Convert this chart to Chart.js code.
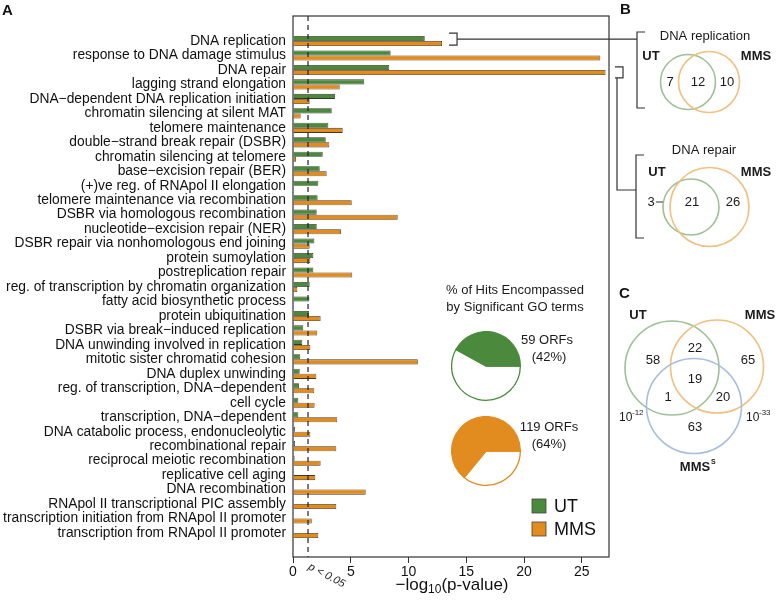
<!DOCTYPE html>
<html>
<head>
<meta charset="utf-8">
<script src="https://cdn.jsdelivr.net/npm/chart.js@4.4.0/dist/chart.umd.min.js"></script>
<style>
  body { margin: 0; background: #fff; }
  #wrap { position: relative; width: 777px; height: 605px; }
  #wrap canvas { position: absolute; }
</style>
</head>
<body>
<div id="wrap">
  <canvas id="barChart" width="777" height="605" style="left:0;top:0"></canvas>
  <canvas id="pieUT" width="70" height="70" style="left:451px;top:331px"></canvas>
  <canvas id="pieMMS" width="70" height="70" style="left:451px;top:416px"></canvas>
</div>
<script>
// GO terms, top to bottom
const categories = [
  'DNA replication',
  'response to DNA damage stimulus',
  'DNA repair',
  'lagging strand elongation',
  'DNA\u2212dependent DNA replication initiation',
  'chromatin silencing at silent MAT',
  'telomere maintenance',
  'double\u2212strand break repair (DSBR)',
  'chromatin silencing at telomere',
  'base\u2212excision repair (BER)',
  '(+)ve reg. of RNApol II elongation',
  'telomere maintenance via recombination',
  'DSBR via homologous recombination',
  'nucleotide\u2212excision repair (NER)',
  'DSBR repair via nonhomologous end joining',
  'protein sumoylation',
  'postreplication repair',
  'reg. of transcription by chromatin organization',
  'fatty acid biosynthetic process',
  'protein ubiquitination',
  'DSBR via break\u2212induced replication',
  'DNA unwinding involved in replication',
  'mitotic sister chromatid cohesion',
  'DNA duplex unwinding',
  'reg. of transcription, DNA\u2212dependent',
  'cell cycle',
  'transcription, DNA\u2212dependent',
  'DNA catabolic process, endonucleolytic',
  'recombinational repair',
  'reciprocal meiotic recombination',
  'replicative cell aging',
  'DNA recombination',
  'RNApol II transcriptional PIC assembly',
  'transcription initiation from RNApol II promoter',
  'transcription from RNApol II promoter'
];

// -log10(p-value)
const utValues = [11.4, 8.45, 8.33, 6.17, 3.63, 3.35, 3.06, 2.83, 2.57, 2.31, 2.19, 2.13, 2.05, 2.05, 1.85,
  1.76, 1.76, 1.44, 1.42, 1.38, 0.89, 0.80, 0.63, 0.58, 0.52, 0.46, 0.46, 0.17, 0.17, 0.14, 0, 0, 0, 0, 0];
const mmsValues = [12.9, 26.6, 27.05, 4.04, 1.44, 0.66, 4.3, 3.14, 0.26, 2.91, 0, 5.08, 9.06, 4.15, 1.44,
  1.5, 5.13, 0.37, 0, 2.39, 2.1, 1.5, 10.8, 2.02, 1.84, 1.87, 3.83, 1.5, 3.75, 2.39, 1.93, 6.29, 3.75, 1.62, 2.19];

const xTicks = [0, 5, 10, 15, 20, 25];
const pThreshold = 0.05;

// pies: share of hits covered by significant GO terms
const pieOrfs = [59, 119];
const piePercent = [42, 64];

// Venn counts
const vennReplication = [7, 12, 10];   // UT only, both, MMS only
const vennRepair = [3, 21, 26];
const vennC = { ut: 58, mms: 65, mmsS: 63, utMms: 22, utMmsS: 1, mmsMmsS: 20, all: 19 };

const GREEN = '#4b8a3d';
const ORANGE = '#e28b1e';
const FONT = "'Liberation Sans', Arial, Helvetica, sans-serif";

function txt(ctx, s, x, y, font, align, color) {
  ctx.font = font;
  ctx.textAlign = align || 'center';
  ctx.textBaseline = 'middle';
  ctx.fillStyle = color || '#1a1a1a';
  ctx.fillText(s, x, y);
}

function line(ctx, pts) {
  ctx.beginPath();
  ctx.moveTo(pts[0][0], pts[0][1]);
  for (let i = 1; i < pts.length; i++) ctx.lineTo(pts[i][0], pts[i][1]);
  ctx.stroke();
}

function circle(ctx, cx, cy, r, color) {
  ctx.strokeStyle = color;
  ctx.lineWidth = 1.6;
  ctx.beginPath();
  ctx.arc(cx, cy, r, 0, Math.PI * 2);
  ctx.stroke();
}

// everything drawn around the bar plot: threshold line, box, brackets, Venns, legend
const annotations = {
  id: 'annotations',
  afterDatasetsDraw(chart) {
    const { ctx, chartArea: a, scales: { x } } = chart;
    const px = x.getPixelForValue(-Math.log10(pThreshold));
    ctx.save();
    ctx.setLineDash([5, 4]);
    ctx.strokeStyle = '#222';
    ctx.lineWidth = 1.2;
    line(ctx, [[px, a.top], [px, a.bottom]]);
    ctx.setLineDash([]);
    ctx.strokeStyle = '#333';
    ctx.lineWidth = 1.2;
    ctx.strokeRect(a.left, a.top, a.right - a.left, a.bottom - a.top);

    // rotated threshold label
    ctx.save();
    ctx.translate(px + 1, a.bottom + 9);
    ctx.rotate(28 * Math.PI / 180);
    txt(ctx, 'p < 0.05', 0, 0, 'italic 11px ' + FONT, 'left', '#222');
    ctx.restore();
    ctx.restore();
  },
  afterDraw(chart) {
    const { ctx, scales: { x, y } } = chart;
    ctx.save();

    // panel letters
    txt(ctx, 'A', 2, 11, 'bold 15px ' + FONT, 'left', '#111');
    txt(ctx, 'B', 620, 10, 'bold 15px ' + FONT, 'left', '#111');
    txt(ctx, 'C', 619, 294, 'bold 15px ' + FONT, 'left', '#111');

    // x axis title with subscript
    const t1 = '\u2212log', t2 = '10', t3 = '(p-value)';
    ctx.font = '17px ' + FONT;
    const w1 = ctx.measureText(t1).width, w3 = ctx.measureText(t3).width;
    ctx.font = '12px ' + FONT;
    const w2 = ctx.measureText(t2).width;
    const sx = 452 - (w1 + w2 + w3) / 2;
    txt(ctx, t1, sx, 585, '17px ' + FONT, 'left', '#111');
    txt(ctx, t2, sx + w1, 590, '12px ' + FONT, 'left', '#111');
    txt(ctx, t3, sx + w1 + w2, 585, '17px ' + FONT, 'left', '#111');

    // pie captions
    txt(ctx, '% of Hits Encompassed', 515, 290, '13px ' + FONT);
    txt(ctx, 'by Significant GO terms', 515, 307, '13px ' + FONT);
    txt(ctx, pieOrfs[0] + ' ORFs', 547, 340, '13px ' + FONT);
    txt(ctx, '(' + piePercent[0] + '%)', 549, 357, '13px ' + FONT);
    txt(ctx, pieOrfs[1] + ' ORFs', 549, 427, '13px ' + FONT);
    txt(ctx, '(' + piePercent[1] + '%)', 549, 444, '13px ' + FONT);

    // legend
    const legend = [['UT', GREEN, 506], ['MMS', ORANGE, 529]];
    legend.forEach(([lab, col, cy]) => {
      ctx.fillStyle = col;
      ctx.fillRect(532, cy - 7, 14, 14);
      ctx.strokeStyle = '#444';
      ctx.lineWidth = 0.8;
      ctx.strokeRect(532, cy - 7, 14, 14);
      txt(ctx, lab, 554, cy + 1, '18px ' + FONT, 'left', '#111');
    });

    // brackets linking bars to Venn panels
    ctx.strokeStyle = '#333';
    ctx.lineWidth = 1.2;
    const r0 = y.getPixelForValue(0) - 2;
    const bx0 = x.getPixelForValue(mmsValues[0]) + 7;
    line(ctx, [[bx0, r0 - 6], [bx0 + 8, r0 - 6], [bx0 + 8, r0 + 6], [bx0, r0 + 6]]);
    line(ctx, [[bx0 + 8, r0], [637, r0]]);
    line(ctx, [[645, 32], [637, 32], [637, 108], [645, 108]]);

    const r2 = y.getPixelForValue(2) + 2;
    const bx2 = 615;
    line(ctx, [[bx2, r2 - 5], [bx2 + 8, r2 - 5], [bx2 + 8, r2 + 6], [bx2, r2 + 6]]);
    line(ctx, [[bx2 + 2, r2 + 6], [bx2 + 2, 190], [636, 190]]);
    line(ctx, [[644, 155], [636, 155], [636, 238], [644, 238]]);

    // Venn B1: DNA replication
    txt(ctx, 'DNA replication', 705, 36, '13px ' + FONT);
    txt(ctx, 'UT', 651, 56, 'bold 13px ' + FONT);
    txt(ctx, 'MMS', 756, 56, 'bold 13px ' + FONT);
    circle(ctx, 688, 82, 27.5, '#9fbf96');
    circle(ctx, 709, 82, 30.5, '#efc07e');
    txt(ctx, String(vennReplication[0]), 670, 82, '13px ' + FONT);
    txt(ctx, String(vennReplication[1]), 698, 82, '13px ' + FONT);
    txt(ctx, String(vennReplication[2]), 727, 82, '13px ' + FONT);

    // Venn B2: DNA repair
    txt(ctx, 'DNA repair', 704, 150, '13px ' + FONT);
    txt(ctx, 'UT', 657, 172, 'bold 13px ' + FONT);
    txt(ctx, 'MMS', 756, 172, 'bold 13px ' + FONT);
    circle(ctx, 691, 207, 28, '#9fbf96');
    circle(ctx, 709.5, 207, 39.5, '#efc07e');
    txt(ctx, String(vennRepair[0]), 651, 202, '13px ' + FONT);
    ctx.strokeStyle = '#333';
    ctx.lineWidth = 1;
    line(ctx, [[656, 202], [663, 202]]);
    txt(ctx, String(vennRepair[1]), 692, 202, '13px ' + FONT);
    txt(ctx, String(vennRepair[2]), 733, 202, '13px ' + FONT);

    // Venn C
    circle(ctx, 672, 368, 47, '#9fbf96');
    circle(ctx, 717, 366.5, 46.5, '#efc07e');
    circle(ctx, 694, 406, 47.5, '#a8bedf');
    txt(ctx, 'UT', 638, 315, 'bold 13px ' + FONT);
    txt(ctx, 'MMS', 760, 315, 'bold 13px ' + FONT);
    txt(ctx, 'MMS', 695, 467, 'bold 13px ' + FONT);
    txt(ctx, 'S', 711, 462, 'bold 7px ' + FONT, 'left');
    txt(ctx, String(vennC.ut), 653, 360, '13px ' + FONT);
    txt(ctx, String(vennC.utMms), 695, 348, '13px ' + FONT);
    txt(ctx, String(vennC.mms), 748, 360, '13px ' + FONT);
    txt(ctx, String(vennC.all), 695, 379, '13px ' + FONT);
    txt(ctx, String(vennC.utMmsS), 668, 397, '13px ' + FONT);
    txt(ctx, String(vennC.mmsMmsS), 723, 397, '13px ' + FONT);
    txt(ctx, String(vennC.mmsS), 695, 427, '13px ' + FONT);
    txt(ctx, '10', 619, 418, '12px ' + FONT, 'left');
    txt(ctx, '-12', 632, 413, '8px ' + FONT, 'left');
    txt(ctx, '10', 746, 418, '12px ' + FONT, 'left');
    txt(ctx, '-33', 759, 413, '8px ' + FONT, 'left');

    ctx.restore();
  }
};

const barData = {
  datasets: [
    {
      label: 'UT',
      data: utValues.map((v, i) => ({ x: v, y: i })),
      backgroundColor: GREEN,
      borderColor: '#2e3a28',
      borderWidth: 0.8,
      categoryPercentage: 0.7,
      barPercentage: 1
    },
    {
      label: 'MMS',
      data: mmsValues.map((v, i) => ({ x: v, y: i })),
      backgroundColor: ORANGE,
      borderColor: '#4a3518',
      borderWidth: 0.8,
      categoryPercentage: 0.7,
      barPercentage: 1
    }
  ]
};

new Chart(document.getElementById('barChart'), {
  type: 'bar',
  data: barData,
  plugins: [annotations],
  options: {
    indexAxis: 'y',
    responsive: false,
    animation: false,
    events: [],
    layout: { padding: { top: 16, right: 168, left: 0, bottom: 0 } },
    plugins: { legend: { display: false }, tooltip: { enabled: false } },
    scales: {
      x: {
        type: 'linear',
        min: 0,
        max: 27.35,
        afterBuildTicks: s => { s.ticks = xTicks.map(v => ({ value: v })); },
        afterFit: s => { s.height = 48; },
        grid: { display: true, drawOnChartArea: false, drawTicks: true, tickLength: 6, color: '#333', lineWidth: 1 },
        border: { display: false },
        ticks: { color: '#111', font: { family: FONT, size: 14 }, padding: 1, maxRotation: 0 }
      },
      y: {
        type: 'linear',
        reverse: true,
        offset: false,
        min: -1.73,
        max: 35.66,
        afterBuildTicks: s => { s.ticks = categories.map((c, i) => ({ value: i })); },
        afterFit: s => { s.width = 293; },
        grid: { display: false, drawTicks: false, offset: false },
        border: { display: false },
        ticks: {
          autoSkip: false,
          padding: 7,
          color: '#111',
          font: { family: FONT, size: 13.8 },
          callback: v => categories[v]
        }
      }
    }
  }
});

function makePie(id, percent, color) {
  new Chart(document.getElementById(id), {
    type: 'pie',
    data: {
      labels: ['not covered', 'covered'],
      datasets: [{
        data: [100 - percent, percent],
        backgroundColor: ['#ffffff', color],
        borderColor: color,
        borderWidth: 1.3
      }]
    },
    options: {
      responsive: false,
      animation: false,
      events: [],
      rotation: 90,
      plugins: { legend: { display: false }, tooltip: { enabled: false } }
    }
  });
}
makePie('pieUT', piePercent[0], GREEN);
makePie('pieMMS', piePercent[1], ORANGE);
</script>
</body>
</html>
